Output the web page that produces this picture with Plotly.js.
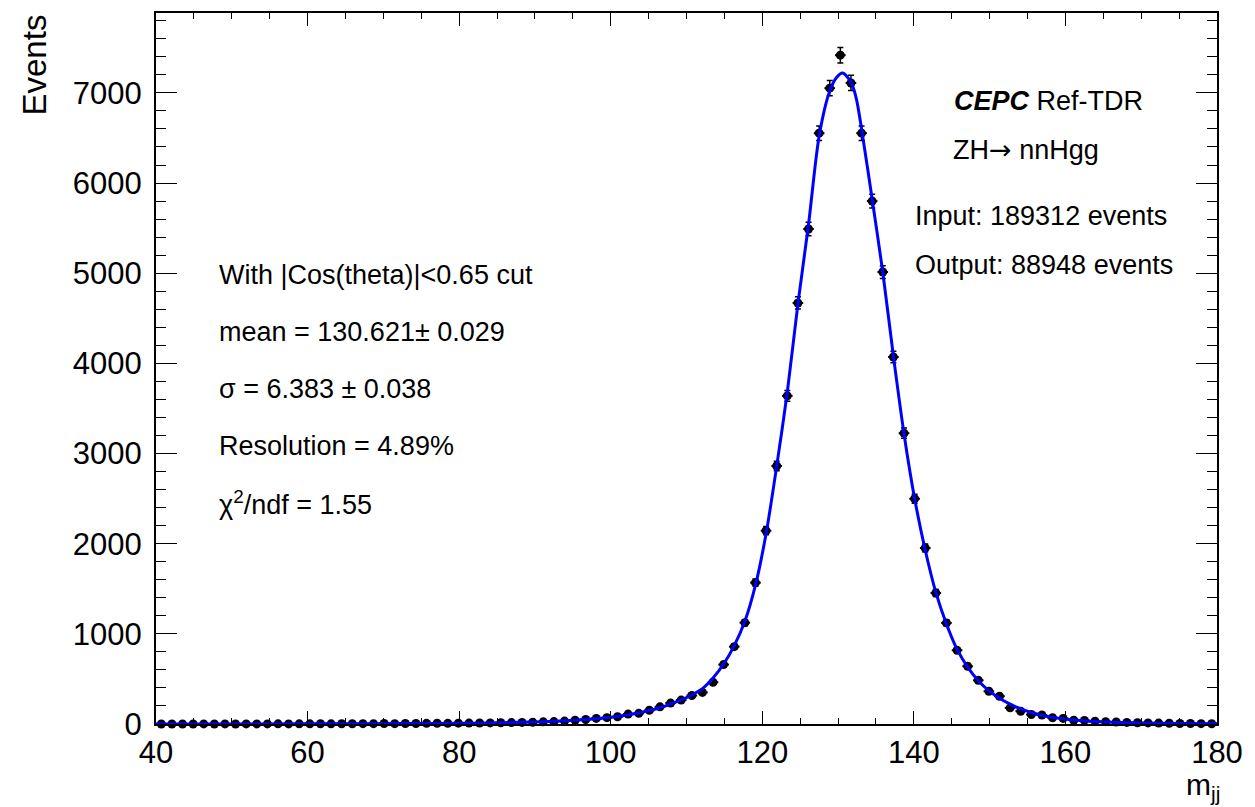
<!DOCTYPE html>
<html>
<head>
<meta charset="utf-8">
<script src="https://cdn.plot.ly/plotly-3.0.1.min.js"></script>
<style>
html,body{margin:0;padding:0;background:#fff;}
#chart{width:1255px;height:807px;}
</style>
</head>
<body>
<div id="chart"></div>
<script>
// Histogram: 100 bins of width 1.4 from 40 to 180 (bin centres)
const binCenters = [40.7,42.1,43.5,44.9,46.3,47.7,49.1,50.5,51.9,53.3,54.7,56.1,57.5,58.9,60.3,61.7,63.1,64.5,65.9,67.3,
68.7,70.1,71.5,72.9,74.3,75.7,77.1,78.5,79.9,81.3,82.7,84.1,85.5,86.9,88.3,89.7,91.1,92.5,93.9,95.3,
96.7,98.1,99.5,100.9,102.3,103.7,105.1,106.5,107.9,109.3,110.7,112.1,113.5,114.9,116.3,117.7,119.1,120.5,121.9,123.3,
124.7,126.1,127.5,128.9,130.3,131.7,133.1,134.5,135.9,137.3,138.7,140.1,141.5,142.9,144.3,145.7,147.1,148.5,149.9,151.3,
152.7,154.1,155.5,156.9,158.3,159.7,161.1,162.5,163.9,165.3,166.7,168.1,169.5,170.9,172.3,173.7,175.1,176.5,177.9,179.3];
const events = [0,0,0,0,1,0,1,0,1,1,1,2,1,2,2,3,2,3,3,4,
4,5,4,6,5,7,8,7,9,10,
11,12,14,16,18,20,24,27,32,42,
50,62,70,80,110,118,152,190,232,265,
316,350,463,659,858,1124,1568,2144,2862,3640,
4670,5490,6553,7052,7418,7110,6553,5800,5013,4071,
3226,2498,1952,1453,1121,818,640,485,363,308,
179,142,105,100,69,62,42,40,31,26,
22,18,14,12,10,8,6,5,4,3];
const eventErrors = [0,0,0,0,1,0,1,0,1,1,1,1.4,1,1.4,1.4,1.7,1.4,1.7,1.7,2,
2,2.2,2,2.4,2.2,2.6,2.8,2.6,3,3.2,
3.3,3.5,3.7,4,4.2,4.5,4.9,5.2,5.7,6.5,
7.1,7.9,8.4,8.9,10.5,10.9,12.3,13.8,15.2,16.3,
17.8,18.7,21.5,25.7,29.3,33.5,39.6,46.3,53.5,60.3,
68.3,74.1,81,84,86.1,84.3,81,76.2,70.8,63.8,
56.8,50,44.2,38.1,33.5,28.6,25.3,22,19.1,17.5,
13.4,11.9,10.2,10,8.3,7.9,6.5,6.3,5.6,5.1,
4.7,4.2,3.7,3.5,3.2,2.8,2.4,2.2,2,1.7];
const halfBin = 0.7;

// Fit curve
const fitX = [40,50,60,70,75,80,84,88,91,94,97,100,102,104,105.1,106.5,107.9,109.3,110.7,112.1,113.5,114.9,116.3,117.7,119.1,120.5,121.9,123.3,
124.7,126.1,127.5,128.9,129.8,130.6,131.7,132.4,133.1,134.5,135.9,137.3,138.7,140.1,141.5,142.9,144.3,145.7,147.1,148.5,149.9,151.3,
152.7,154.1,155.5,157,159,161,164,167,170,175,180];
const fitY = [0.3,0.8,1.7,3.5,5.2,8,12,19,26,36,52,76,98,128,150,180,222,268,322,392,510,665,870,1140,1540,2110,2860,3680,
4660,5540,6520,7020,7170,7220,7120,6940,6600,5820,5010,4080,3220,2500,1930,1460,1110,830,630,480,370,285,
220,168,128,95,65,45,28,18,12,6,3];

const xTitle = 'm<sub>jj</sub>';
const yTitle = 'Events';
const leftLines = ['With |Cos(theta)|<0.65 cut','mean = 130.621\u00b1 0.029','\u03c3 = 6.383 \u00b1 0.038','Resolution = 4.89%','\u03c7<sup>2</sup>/ndf = 1.55'];
const rightLines = ['<b><i>CEPC</i></b> Ref-TDR','ZH<span style="font-family:DejaVu Sans">\u2192</span> nnHgg','Input: 189312 events','Output: 88948 events'];

const FONT = 'Liberation Sans, Arial, Helvetica, sans-serif';

const dataTrace = {
  x: binCenters, y: events, type: 'scatter', mode: 'markers',
  marker: {color: '#000', size: 9, symbol: 'circle'},
  error_y: {type: 'data', array: eventErrors, visible: true, color: '#000', thickness: 1.5, width: 3},
  error_x: {type: 'constant', value: halfBin, visible: true, color: '#000', thickness: 2, width: 0},
  cliponaxis: false, hoverinfo: 'x+y', showlegend: false
};
const fitTrace = {
  x: fitX, y: fitY, type: 'scatter', mode: 'lines',
  line: {color: '#0000ff', width: 3, shape: 'spline', smoothing: 0.8},
  showlegend: false, hoverinfo: 'skip'
};

// pixel -> paper helpers (plot area: x 156..1217, y 13..724.5)
const L = 156, R = 1217, T = 13, B = 724.5;
const px = v => (v - L) / (R - L);
const py = v => (B - v) / (B - T);

const annotations = [];
const leftY = [275, 332, 389, 446, 503];
leftLines.forEach((t, i) => annotations.push({text: t, xref: 'paper', yref: 'paper', x: px(217), y: py(leftY[i]),
  xanchor: 'left', yanchor: 'middle', showarrow: false, font: {family: FONT, size: 27, color: '#000'}}));
const rightX = [952, 951, 913, 913];
const rightY = [101, 150, 216, 265];
rightLines.forEach((t, i) => annotations.push({text: t, xref: 'paper', yref: 'paper', x: px(rightX[i]), y: py(rightY[i]),
  xanchor: 'left', yanchor: 'middle', showarrow: false, font: {family: FONT, size: 27, color: '#000'}}));
annotations.push({text: yTitle, xref: 'paper', yref: 'paper', x: px(34), y: py(13), textangle: -90,
  xanchor: 'center', yanchor: 'top', showarrow: false, font: {family: FONT, size: 33, color: '#000'}});
annotations.push({text: xTitle, xref: 'paper', yref: 'paper', x: px(1222), y: py(787),
  xanchor: 'right', yanchor: 'middle', showarrow: false, font: {family: FONT, size: 30, color: '#000'}});

const layout = {
  width: 1255, height: 807,
  margin: {l: L, r: 1255 - R, t: T, b: 807 - B, pad: 0},
  paper_bgcolor: '#fff', plot_bgcolor: '#fff',
  font: {family: FONT, color: '#000'},
  showlegend: false,
  xaxis: {
    range: [40, 180], dtick: 20, tick0: 40, ticks: 'inside', ticklen: 13, tickwidth: 1, tickcolor: '#000',
    showline: true, linecolor: '#000', linewidth: 2, mirror: 'ticks', showgrid: false, zeroline: false,
    tickfont: {family: FONT, size: 31, color: '#000'},
    minor: {dtick: 5, ticks: 'inside', ticklen: 6, tickcolor: '#000', tickwidth: 1, showgrid: false}
  },
  yaxis: {
    range: [0, 7886], dtick: 1000, tick0: 0, ticks: 'inside', ticklen: 21, tickwidth: 1, tickcolor: '#000',
    showline: true, linecolor: '#000', linewidth: 2, mirror: 'ticks', showgrid: false, zeroline: false,
    tickfont: {family: FONT, size: 31, color: '#000'}, ticklabelstandoff: 6,
    minor: {dtick: 200, ticks: 'inside', ticklen: 10, tickcolor: '#000', tickwidth: 1, showgrid: false}
  },
  annotations: annotations
};

Plotly.newPlot('chart', [dataTrace, fitTrace], layout, {staticPlot: true, displayModeBar: false});
</script>
</body>
</html>
